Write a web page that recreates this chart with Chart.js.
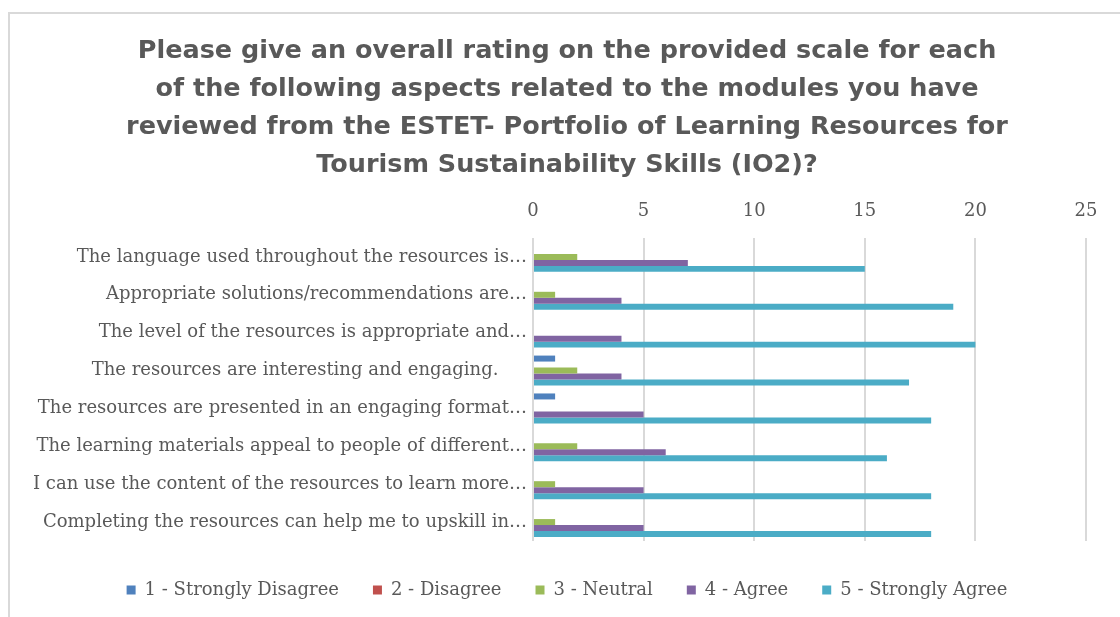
<!DOCTYPE html>
<html>
<head>
<meta charset="utf-8">
<script src="https://cdn.jsdelivr.net/npm/chart.js@4"></script>
<style>
  html, body { margin: 0; padding: 0; background: #fff; overflow: hidden; }
  #frame { position: absolute; left: 8px; top: 12px; width: 1110px; height: 620px; border-left: 2px solid #d9d9d9; border-top: 2px solid #d9d9d9; }
  #wrap { position: absolute; left: 0; top: 0; width: 1120px; height: 617px; }
</style>
</head>
<body>
<div id="frame"></div>
<div id="wrap"><canvas id="ratingChart"></canvas></div>
<script>
// Categories (as shown, truncated in the original)
const categories = [
  'The language used throughout the resources is…',
  'Appropriate solutions/recommendations are…',
  'The level of the resources is appropriate and…',
  'The resources are interesting and engaging.     ',
  'The resources are presented in an engaging format…',
  'The learning materials appeal to people of different…',
  'I can use the content of the resources to learn more…',
  'Completing the resources can help me to upskill in…'
];

const seriesNames = ['1 - Strongly Disagree', '2 - Disagree', '3 - Neutral', '4 - Agree', '5 - Strongly Agree'];
const seriesColors = ['#4f81bd', '#c0504d', '#9bbb59', '#8064a2', '#4bacc6'];

const stronglyDisagree = [0, 0, 0, 1, 1, 0, 0, 0];
const disagree         = [0, 0, 0, 0, 0, 0, 0, 0];
const neutral          = [2, 1, 0, 2, 0, 2, 1, 1];
const agree            = [7, 4, 4, 4, 5, 6, 5, 5];
const stronglyAgree    = [15, 19, 20, 17, 18, 16, 18, 18];

const xTicks = [0, 5, 10, 15, 20, 25];

const titleLines = [
  'Please give an overall rating on the provided scale for each',
  'of the following aspects related to the modules you have',
  'reviewed from the ESTET- Portfolio of Learning Resources for',
  'Tourism Sustainability Skills (IO2)?'
];

const serif = "'DejaVu Serif', 'Liberation Serif', serif";
const allSeries = [stronglyDisagree, disagree, neutral, agree, stronglyAgree];

const ctx = document.getElementById('ratingChart').getContext('2d');
new Chart(ctx, {
  type: 'bar',
  data: {
    labels: categories,
    datasets: allSeries.map((vals, i) => ({
      label: seriesNames[i],
      data: vals,
      backgroundColor: seriesColors[i],
      borderWidth: 0,
      barPercentage: 1,
      categoryPercentage: 0.79
    }))
  },
  options: {
    indexAxis: 'y',
    responsive: true,
    maintainAspectRatio: false,
    animation: false,
    layout: { padding: { left: 48, right: 34, top: 0, bottom: 8 } },
    scales: {
      x: {
        position: 'top',
        min: 0,
        max: 25,
        afterBuildTicks: (scale) => { scale.ticks = xTicks.map(v => ({ value: v })); },
        afterFit: (scale) => { scale.height = 54; },
        border: { display: false },
        grid: { color: '#d9d9d9', lineWidth: 2, drawTicks: false },
        ticks: { color: '#595959', padding: 16, font: { family: serif, size: 18 } }
      },
      y: {
        afterFit: (scale) => {
          scale.width = 485;
          // long labels reach past the padded edge, don't clip them
          scale._computeLabelArea = () => null;
        },
        border: { display: false },
        grid: { display: false, drawTicks: false },
        ticks: { color: '#595959', padding: 6, autoSkip: false, font: { family: serif, size: 18 } }
      }
    },
    plugins: {
      title: {
        display: true,
        text: titleLines,
        color: '#595959',
        padding: { top: 33, bottom: 0 },
        font: { family: "'DejaVu Sans', sans-serif", size: 25.5, weight: 'bold', lineHeight: 1.48 }
      },
      legend: {
        position: 'bottom',
        title: { display: true, text: ' ', padding: 0, font: { size: 5 } },
        labels: {
          color: '#595959',
          boxWidth: 9,
          boxHeight: 9,
          padding: 34,
          font: { family: serif, size: 18 }
        }
      },
      tooltip: { enabled: false }
    }
  }
});
</script>
</body>
</html>
